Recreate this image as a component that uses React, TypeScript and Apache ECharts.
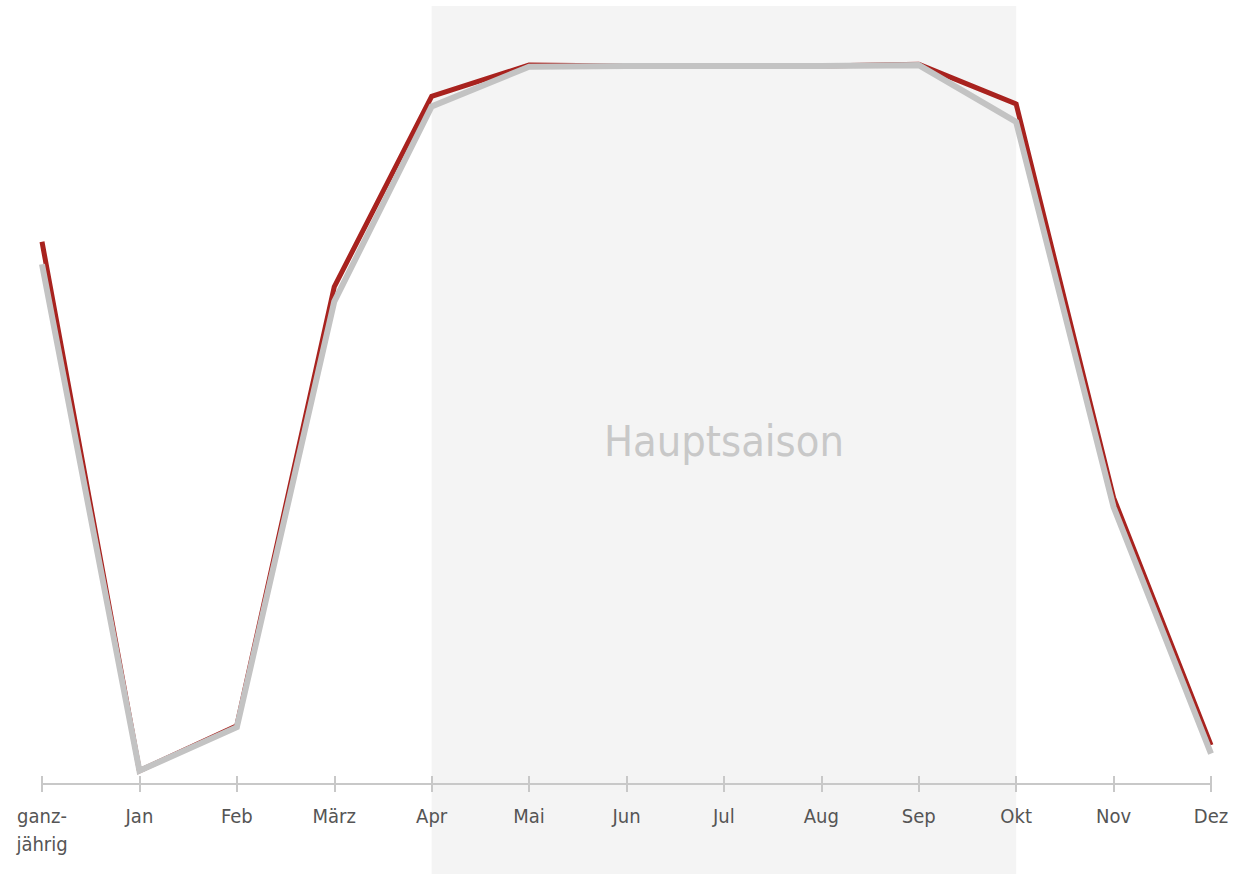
import React, { useEffect, useRef } from "react";
import * as echarts from "echarts";

const categories = ["ganz-\njährig", "Jan", "Feb", "März", "Apr", "Mai", "Jun", "Jul", "Aug", "Sep", "Okt", "Nov", "Dez"];
const redValues = [69.7, 1.7, 7.5, 63.9, 88.4, 92.4, 92.3, 92.3, 92.3, 92.5, 87.4, 36.8, 5.0];
const greyValues = [66.8, 1.7, 7.3, 62.0, 87.1, 92.2, 92.3, 92.3, 92.3, 92.4, 85.1, 35.6, 3.9];
const seasonStart = "Apr";
const seasonEnd = "Okt";
const seasonLabel = "Hauptsaison";

const FONT = '"Liberation Sans Narrow", "DejaVu Sans Condensed", "Roboto", sans-serif';

export default function App() {
  const ref = useRef<HTMLDivElement>(null);
  useEffect(() => {
    if (!ref.current) return;
    const chart = echarts.init(ref.current, null, { renderer: "svg" });
    const option: any = {
      animation: false,
      backgroundColor: "#ffffff",
      grid: { left: 42, right: 23, top: 6, bottom: 90 },
      xAxis: [
        {
          type: "category",
          data: categories,
          boundaryGap: false,
          axisLine: { lineStyle: { color: "#c8c8c8", width: 2 } },
          axisTick: { show: true, length: 8, lineStyle: { color: "#c8c8c8", width: 2 } },
          axisLabel: {
            color: "#555555",
            fontSize: 20,
            fontFamily: FONT,
            margin: 18,
            lineHeight: 28,
            interval: 0,
          },
          splitLine: { show: false },
        },
        {
          type: "category",
          data: categories,
          boundaryGap: false,
          position: "bottom",
          axisLine: { show: false },
          axisTick: { show: true, inside: true, length: 8, lineStyle: { color: "#c8c8c8", width: 2 } },
          axisLabel: { show: false },
          splitLine: { show: false },
        },
      ],
      yAxis: { type: "value", min: 0, max: 100, show: false, splitLine: { show: false } },
      series: [
        {
          type: "line",
          data: redValues,
          showSymbol: false,
          lineStyle: { color: "#a8221e", width: 5, join: "miter" },
          z: 3,
        },
        {
          type: "line",
          data: greyValues,
          showSymbol: false,
          lineStyle: { color: "#c3c3c3", width: 6, join: "miter" },
          z: 4,
        },
      ],
    };
    chart.setOption(option);
    const x0 = chart.convertToPixel({ xAxisIndex: 0 }, seasonStart) as number;
    const x1 = chart.convertToPixel({ xAxisIndex: 0 }, seasonEnd) as number;
    const yTop = chart.convertToPixel({ yAxisIndex: 0 }, 100) as number;
    const h = chart.getHeight();
    chart.setOption({
      graphic: [
        {
          type: "rect",
          z: -10,
          zlevel: 0,
          silent: true,
          shape: { x: x0, y: yTop, width: x1 - x0, height: h - yTop },
          style: { fill: "#f4f4f4" },
        },
        {
          type: "text",
          z: -5,
          silent: true,
          x: (x0 + x1) / 2,
          y: 441,
          style: {
            text: seasonLabel,
            fill: "#c8c8c8",
            font: `43px ${FONT}`,
            textAlign: "center",
            textVerticalAlign: "middle",
          },
        },
      ],
    });
    return () => chart.dispose();
  }, []);
  return <div ref={ref} style={{ position: "absolute", left: 0, top: 0, width: 1234, height: 874 }} />;
}
